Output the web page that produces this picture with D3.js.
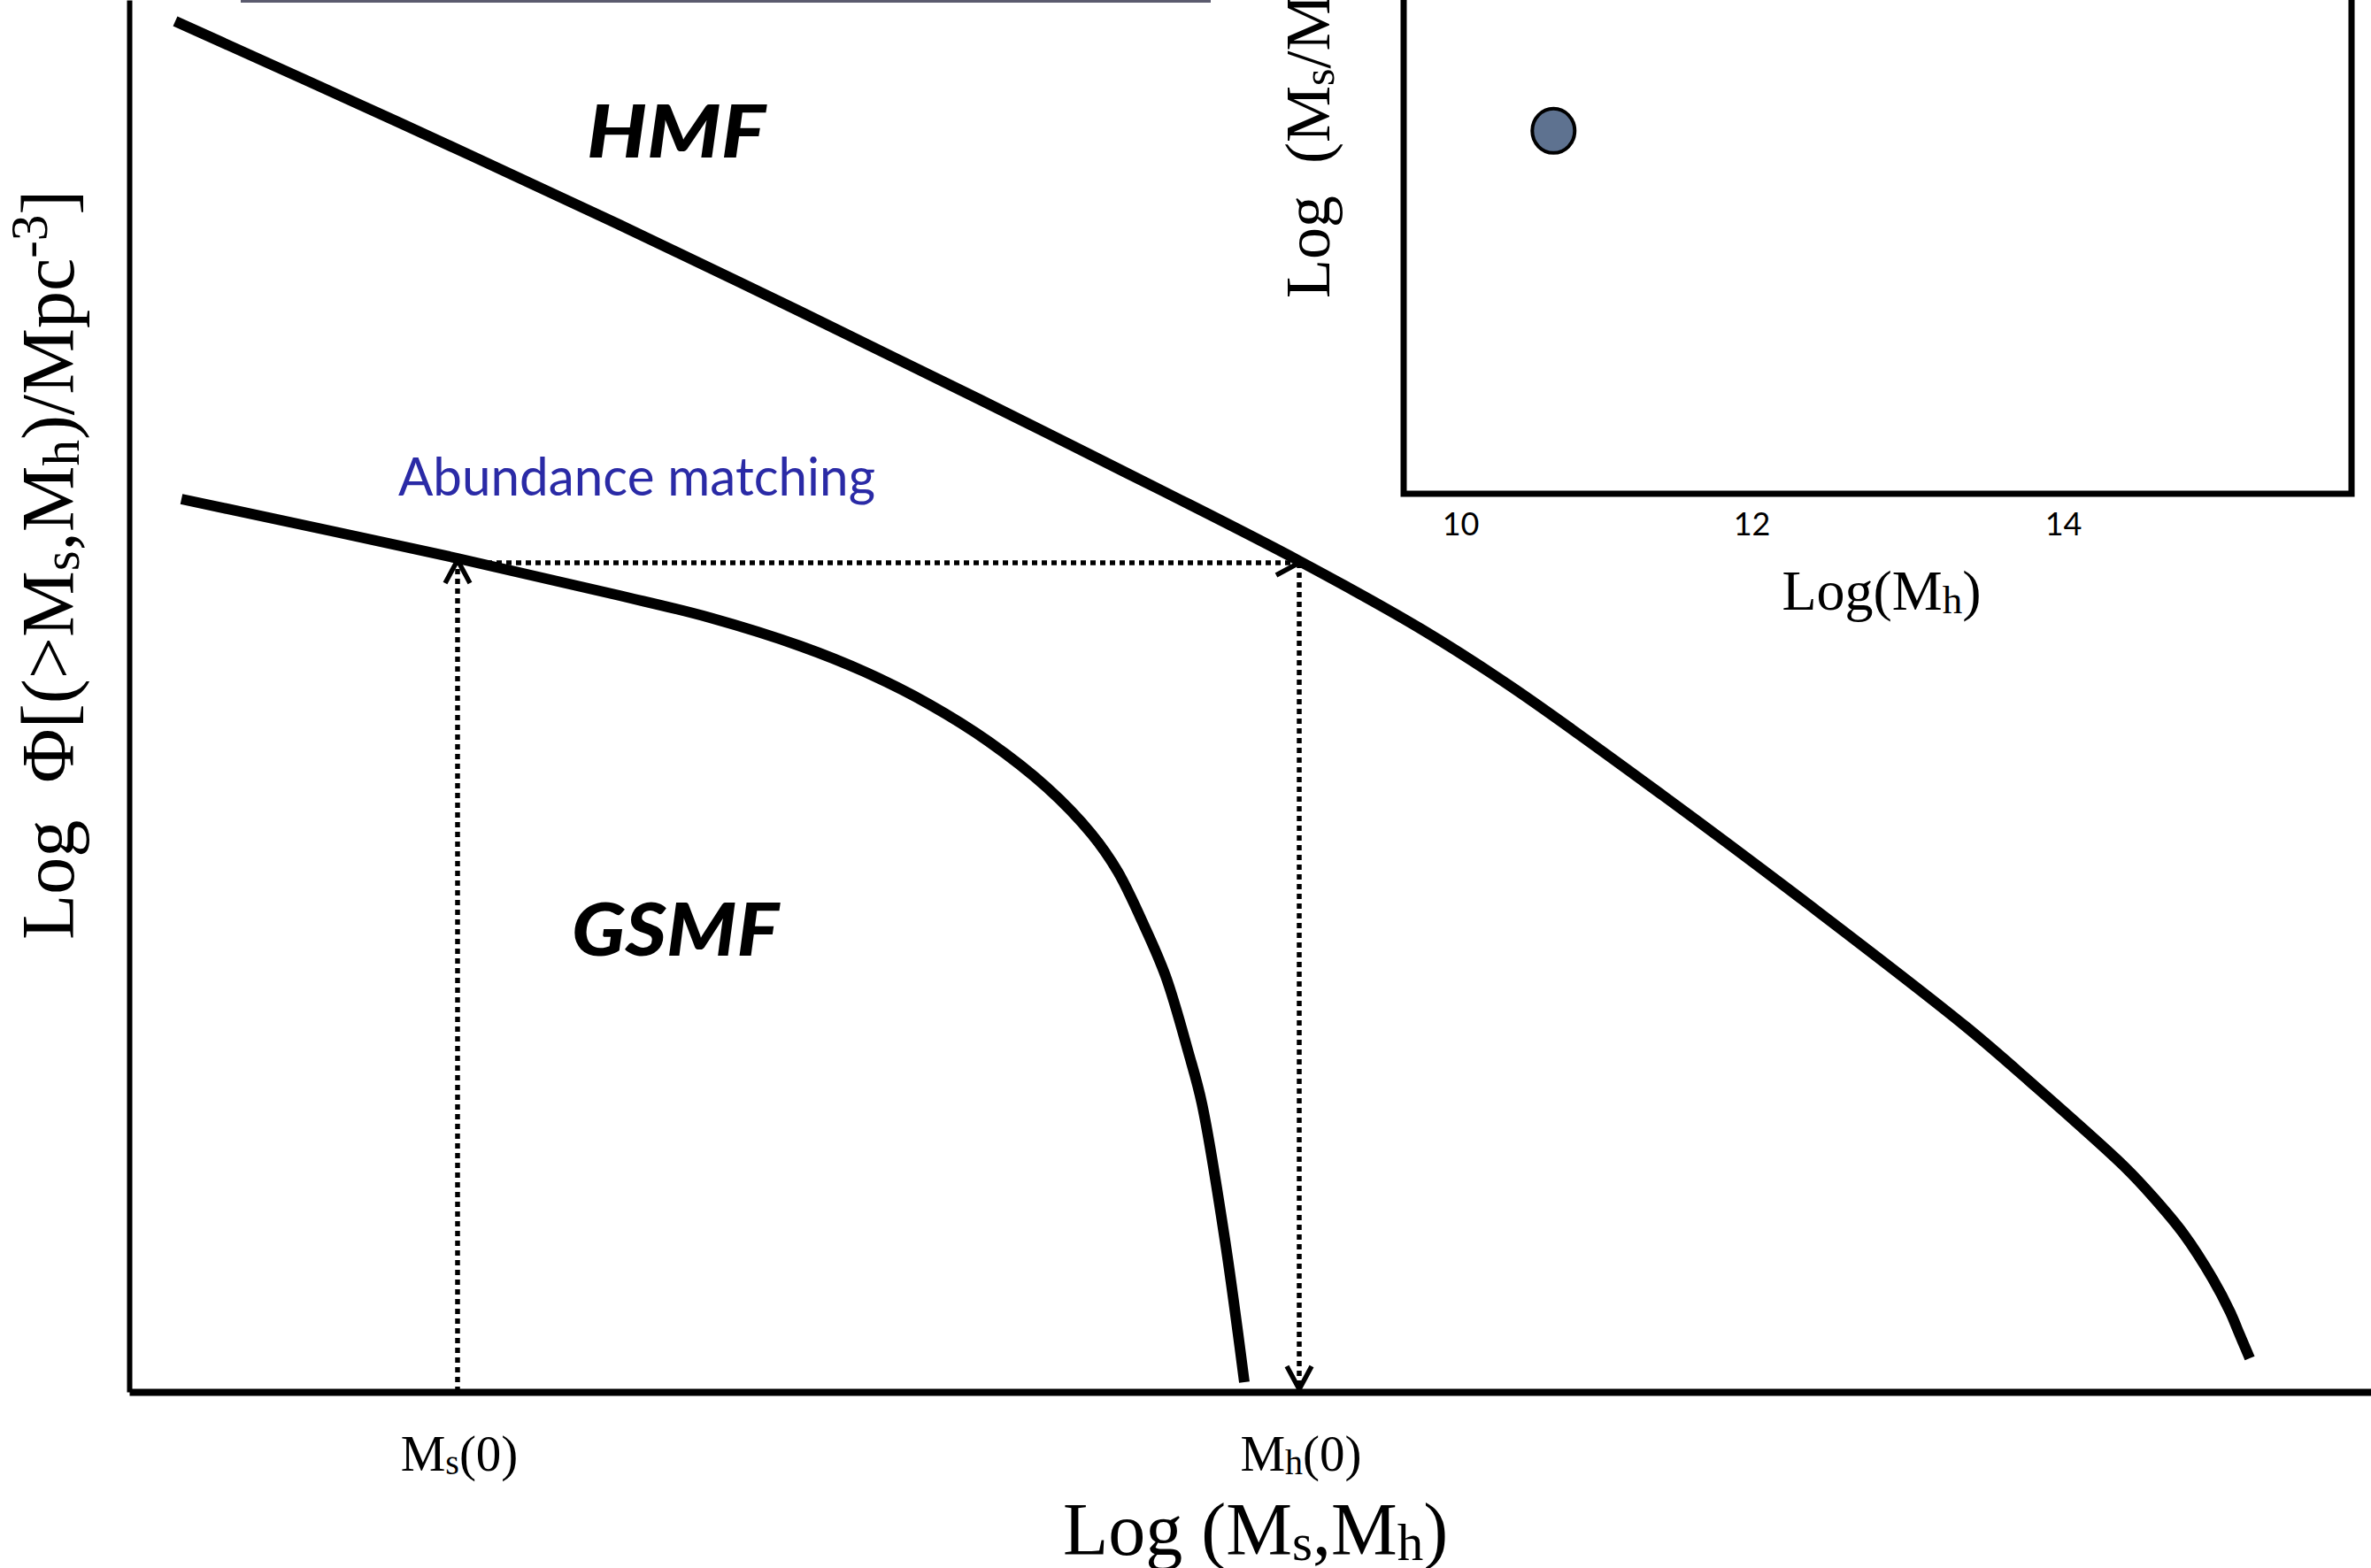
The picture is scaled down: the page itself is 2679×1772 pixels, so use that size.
<!DOCTYPE html>
<html>
<head>
<meta charset="utf-8">
<script src="https://cdn.jsdelivr.net/npm/d3@7"></script>
<style>
  body { margin: 0; background: #fff; }
  svg { display: block; }
</style>
</head>
<body>
<script>
// values (arbitrary log units, 1 unit ~ 100px)
var hmfX = [0.52, 3.04, 5.54, 7.58, 9.62, 11.66, 13.22, 14.60, 15.63, 17.33, 19.04, 20.75, 21.54, 22.54, 22.87, 23.21, 23.54, 23.74, 23.82, 23.96];
var hmfY = [15.49, 14.35, 13.19, 12.21, 11.21, 10.19, 9.39, 8.62, 7.96, 6.74, 5.46, 4.13, 3.45, 2.55, 2.20, 1.79, 1.28, 0.90, 0.71, 0.38];

var gsmfX = [0.59, 3.71, 5.54, 6.56, 7.58, 8.35, 9.04, 9.71, 10.37, 10.87, 11.17, 11.44, 11.71, 11.97, 12.12, 12.38, 12.60];
var gsmfY = [10.09, 9.42, 9.00, 8.75, 8.43, 8.12, 7.77, 7.35, 6.83, 6.31, 5.88, 5.33, 4.70, 3.83, 3.26, 1.72, 0.11];

var matchX = [3.71, 13.22];   // Ms(0), Mh(0)
var matchY = 9.37;

var insetTicks = [10, 12, 14];
var insetPointX = [10.64];
var insetPointY = [-1.53];

var W = 2679, H = 1772;
var serif = "'Liberation Serif', 'Times New Roman', serif";

var svg = d3.select("body").append("svg")
  .attr("width", W)
  .attr("height", H);

var xMain = d3.scaleLinear().domain([0, 25.33]).range([146, 2679]);
var yMain = d3.scaleLinear().domain([0, 15.73]).range([1573, 0]);

// stray rule at the very top
svg.append("line")
  .attr("x1", 272).attr("x2", 1368)
  .attr("y1", 1.5).attr("y2", 1.5)
  .attr("stroke", "#5b5b6e")
  .attr("stroke-width", 3);

// ---- inset ----
var insetX = d3.scaleLinear().domain([10, 12, 14]).range([1650, 1979, 2331]);
var insetY = d3.scaleLinear().domain([-3, -1]).range([558, 0]);

svg.append("rect")
  .attr("x", 1586).attr("y", -20)
  .attr("width", 2657 - 1586).attr("height", 558 + 20)
  .attr("fill", "#fff")
  .attr("stroke", "#000")
  .attr("stroke-width", 7);

var insetAxis = svg.append("g")
  .attr("transform", "translate(0,558)")
  .call(d3.axisBottom(insetX).tickValues(insetTicks).tickFormat(d3.format("d")).tickSize(0).tickPadding(21));
insetAxis.select(".domain").remove();
insetAxis.selectAll("text")
  .attr("font-family", "Lato, 'Open Sans', sans-serif")
  .attr("font-size", 36)
  .attr("fill", "#000");

svg.selectAll(".inset-dot")
  .data(insetPointX)
  .enter().append("ellipse")
  .attr("class", "inset-dot")
  .attr("cx", function(d) { return insetX(d); })
  .attr("cy", function(d, i) { return insetY(insetPointY[i]); })
  .attr("rx", 24).attr("ry", 25)
  .attr("fill", "#5e7290")
  .attr("stroke", "#000")
  .attr("stroke-width", 4);

var insetXLabel = svg.append("text")
  .attr("x", 2126).attr("y", 689)
  .attr("text-anchor", "middle")
  .attr("font-family", serif)
  .attr("font-size", 64);
insetXLabel.append("tspan").text("Log(M");
insetXLabel.append("tspan").attr("font-size", 45).attr("baseline-shift", -4).text("h");
insetXLabel.append("tspan").text(")");

var insetYLabel = svg.append("text")
  .attr("transform", "translate(1502,337) rotate(-90)")
  .attr("font-family", serif)
  .attr("font-size", 72)
  .style("white-space", "pre");
insetYLabel.append("tspan").text("Log  (M");
insetYLabel.append("tspan").attr("font-size", 50).attr("baseline-shift", -5).text("s");
insetYLabel.append("tspan").text("/M");
insetYLabel.append("tspan").attr("font-size", 50).attr("baseline-shift", -5).text("h");
insetYLabel.append("tspan").text(")");

// ---- main axes ----
svg.append("g")
  .attr("transform", "translate(0,1573)")
  .call(d3.axisBottom(xMain).tickValues([]).tickSizeOuter(0))
  .select(".domain")
  .attr("stroke", "#000")
  .attr("stroke-width", 8);

svg.append("g")
  .attr("transform", "translate(146,0)")
  .call(d3.axisLeft(yMain).tickValues([]).tickSizeOuter(0))
  .select(".domain")
  .attr("stroke", "#000")
  .attr("stroke-width", 6);

// ---- curves ----
var line = d3.line()
  .x(function(d) { return xMain(d[0]); })
  .y(function(d) { return yMain(d[1]); })
  .curve(d3.curveCatmullRom.alpha(0.5));

var hmf = hmfX.map(function(x, i) { return [x, hmfY[i]]; });
var gsmf = gsmfX.map(function(x, i) { return [x, gsmfY[i]]; });

[hmf, gsmf].forEach(function(data) {
  svg.append("path")
    .datum(data)
    .attr("d", line)
    .attr("fill", "none")
    .attr("stroke", "#000")
    .attr("stroke-width", 12)
    .attr("stroke-linecap", "butt")
    .attr("stroke-linejoin", "round");
});

// ---- abundance matching arrows ----
var dotted = svg.append("g")
  .attr("fill", "none")
  .attr("stroke", "#000")
  .attr("stroke-width", 5.5)
  .attr("stroke-dasharray", "6 5");

var guide = d3.line()
  .x(function(d) { return xMain(d[0]); })
  .y(function(d) { return yMain(d[1]); });

dotted.append("path").attr("d", guide([[matchX[0], 0], [matchX[0], matchY]]));
dotted.append("path").attr("d", guide([[matchX[0], matchY], [matchX[1], matchY]]));
dotted.append("path").attr("d", guide([[matchX[1], matchY], [matchX[1], 0]]));

var heads = svg.append("g")
  .attr("fill", "none")
  .attr("stroke", "#000")
  .attr("stroke-width", 5.5);

function chevron(px, py, dir) {
  var a = 26, b = 14;
  var pts;
  if (dir === "up") pts = [[px - b, py + a], [px, py], [px + b, py + a]];
  if (dir === "down") pts = [[px - b, py - a], [px, py], [px + b, py - a]];
  if (dir === "right") pts = [[px - a, py - b], [px, py], [px - a, py + b]];
  heads.append("path").attr("d", d3.line()(pts));
}
chevron(xMain(matchX[0]), yMain(matchY) - 3, "up");
chevron(xMain(matchX[1]), yMain(matchY), "right");
chevron(xMain(matchX[1]), yMain(0) - 3, "down");

// ---- annotations ----
svg.append("text")
  .attr("x", 663).attr("y", 178)
  .attr("font-family", "Lato, sans-serif")
  .attr("font-weight", 900)
  .attr("font-style", "italic")
  .attr("font-size", 81)
  .attr("textLength", 202)
  .attr("lengthAdjust", "spacingAndGlyphs")
  .text("HMF");

svg.append("text")
  .attr("x", 646).attr("y", 1080)
  .attr("font-family", "Lato, sans-serif")
  .attr("font-weight", 900)
  .attr("font-style", "italic")
  .attr("font-size", 81)
  .attr("textLength", 234)
  .attr("lengthAdjust", "spacingAndGlyphs")
  .text("GSMF");

svg.append("text")
  .attr("x", 450).attr("y", 560)
  .attr("font-family", "Lato, sans-serif")
  .attr("font-size", 60)
  .attr("fill", "#2a2aa6")
  .attr("textLength", 539)
  .attr("lengthAdjust", "spacingAndGlyphs")
  .text("Abundance matching");

// tick labels at Ms(0), Mh(0)
var tickNames = ["s", "h"];
matchX.forEach(function(v, i) {
  var t = svg.append("text")
    .attr("x", xMain(v) + 2).attr("y", 1662)
    .attr("text-anchor", "middle")
    .attr("font-family", serif)
    .attr("font-size", 57);
  t.append("tspan").text("M");
  t.append("tspan").attr("font-size", 40).attr("baseline-shift", -4).text(tickNames[i]);
  t.append("tspan").text("(0)");
});

// main axis titles
var xLabel = svg.append("text")
  .attr("x", 1201).attr("y", 1757)
  .attr("font-family", serif)
  .attr("font-size", 84)
  .style("white-space", "pre");
xLabel.append("tspan").text("Log (M");
xLabel.append("tspan").attr("font-size", 59).attr("baseline-shift", -6).text("s");
xLabel.append("tspan").text(",M");
xLabel.append("tspan").attr("font-size", 59).attr("baseline-shift", -6).text("h");
xLabel.append("tspan").text(")");

var yLabel = svg.append("text")
  .attr("transform", "translate(83,1062) rotate(-90)")
  .attr("font-family", serif)
  .attr("font-size", 84)
  .style("white-space", "pre");
yLabel.append("tspan").text("Log  \u03A6[(>M");
yLabel.append("tspan").attr("font-size", 59).attr("baseline-shift", -6).text("s");
yLabel.append("tspan").text(",M");
yLabel.append("tspan").attr("font-size", 59).attr("baseline-shift", -6).text("h");
yLabel.append("tspan").text(")/Mpc");
yLabel.append("tspan").attr("font-size", 59).attr("baseline-shift", 30).text("-3");
yLabel.append("tspan").text("]");
</script>
</body>
</html>
